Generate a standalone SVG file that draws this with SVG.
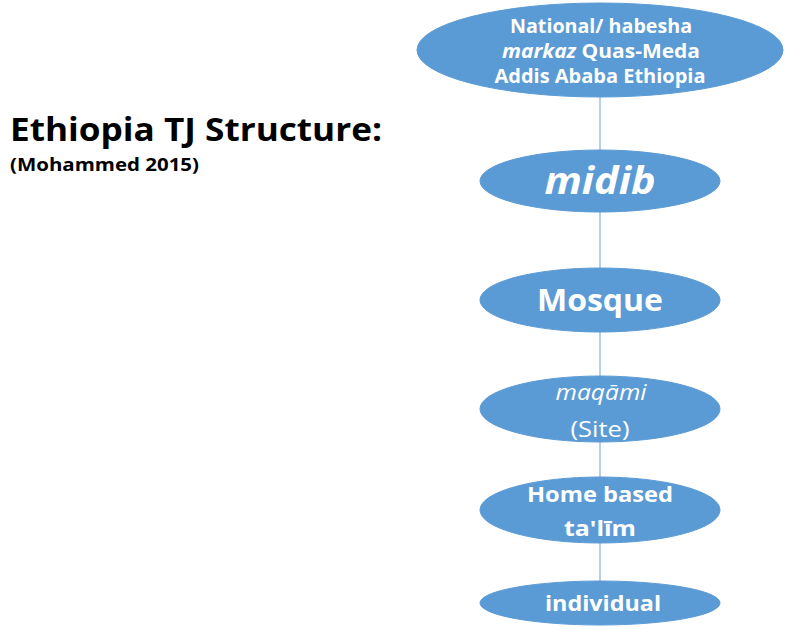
<svg xmlns="http://www.w3.org/2000/svg" width="790" height="630" viewBox="0 0 790 630">
<style>
.n{fill:#5b9bd5;stroke:#5b9bd5;stroke-width:1}
.t{fill:#ffffff;font-family:"Open Sans","Liberation Sans",sans-serif;text-anchor:middle}
.b{font-weight:bold}
.c{stroke:#9dc3e6;stroke-width:1.5;fill:none}
</style>
<rect width="790" height="630" fill="#ffffff"/>
<g id="connectors">
<line class="c" x1="600" y1="97" x2="600" y2="150"/>
<line class="c" x1="600" y1="212" x2="600" y2="268"/>
<line class="c" x1="600" y1="332" x2="600" y2="376"/>
<line class="c" x1="600" y1="442" x2="600" y2="477"/>
<line class="c" x1="600" y1="543" x2="600" y2="581"/>
</g>
<g id="title">
<text x="10" y="141" font-family="Open Sans,Liberation Sans,sans-serif" font-weight="bold" font-size="33" fill="#000" textLength="372" lengthAdjust="spacingAndGlyphs">Ethiopia TJ Structure:</text>
<text x="10" y="171" font-family="Open Sans,Liberation Sans,sans-serif" font-weight="bold" font-size="17" fill="#000" textLength="189" lengthAdjust="spacingAndGlyphs">(Mohammed 2015)</text>
</g>
<g id="national">
<ellipse class="n" cx="600" cy="50" rx="183" ry="47"/>
<text class="t b" x="601" y="33" font-size="20" textLength="182" lengthAdjust="spacingAndGlyphs">National/ habesha</text>
<text class="t b" x="601" y="58" font-size="20" textLength="198" lengthAdjust="spacingAndGlyphs"><tspan font-style="italic">markaz</tspan>  Quas-Meda</text>
<text class="t b" x="600" y="83" font-size="20" textLength="211" lengthAdjust="spacingAndGlyphs">Addis Ababa Ethiopia</text>
</g>
<g id="midib">
<ellipse class="n" cx="600" cy="181" rx="120" ry="31"/>
<text class="t b" x="600" y="194" font-size="38" font-style="italic" textLength="111" lengthAdjust="spacingAndGlyphs">midib</text>
</g>
<g id="mosque">
<ellipse class="n" cx="600" cy="300" rx="120" ry="32"/>
<text class="t b" x="600" y="311" font-size="30" textLength="126" lengthAdjust="spacingAndGlyphs">Mosque</text>
</g>
<g id="maqami">
<ellipse class="n" cx="600" cy="409" rx="120" ry="33"/>
<text class="t" x="601" y="400" font-size="22" font-style="italic" textLength="91" lengthAdjust="spacingAndGlyphs">maqāmi</text>
<text class="t" x="600" y="437" font-size="22" textLength="59" lengthAdjust="spacingAndGlyphs">(Site)</text>
</g>
<g id="home">
<ellipse class="n" cx="600" cy="510" rx="120" ry="33"/>
<text class="t b" x="600" y="502" font-size="22" textLength="146" lengthAdjust="spacingAndGlyphs">Home based</text>
<text class="t b" x="600" y="536" font-size="22" textLength="72" lengthAdjust="spacingAndGlyphs">ta'līm</text>
</g>
<g id="individual">
<ellipse class="n" cx="600" cy="603" rx="120" ry="22"/>
<text class="t b" x="603" y="611" font-size="22" textLength="116" lengthAdjust="spacingAndGlyphs">individual</text>
</g>
</svg>
